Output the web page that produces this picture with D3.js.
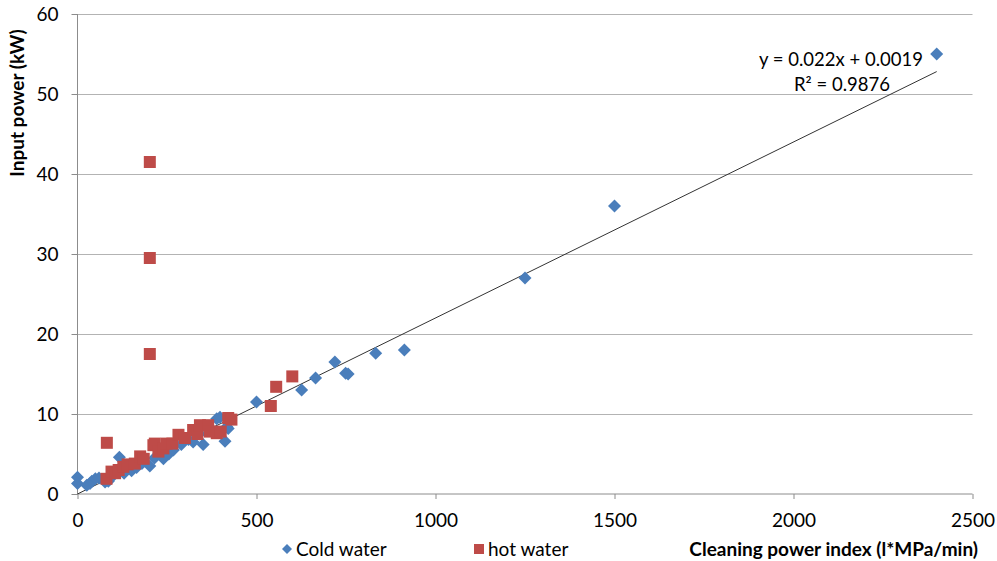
<!DOCTYPE html>
<html>
<head>
<meta charset="utf-8">
<script src="https://cdnjs.cloudflare.com/ajax/libs/d3/7.8.5/d3.min.js"></script>
<style>
  body { margin: 0; background: #fff; }
  text { font-family: Lato, "Open Sans", sans-serif; fill: #000; }
</style>
</head>
<body>
<svg id="chart"></svg>
<script>
// cold water measurements [cleaning power index, input power]
const coldX = [0, 0, 26, 35, 40, 50, 60, 77, 86, 100, 117, 130, 151, 165, 180, 202, 215, 240, 255, 268, 290, 310, 323, 340, 351, 370, 389, 398, 412, 417, 421, 500, 626, 665, 719, 749, 756, 833, 913, 1250, 1500, 2400];
const coldY = [2.1, 1.3, 1.1, 1.3, 1.6, 1.9, 2.0, 1.5, 1.6, 2.3, 4.6, 2.6, 2.9, 3.3, 3.8, 3.5, 4.5, 4.4, 5.0, 5.5, 6.2, 6.8, 6.5, 7.5, 6.2, 8.3, 9.4, 9.6, 6.6, 8.4, 8.2, 11.5, 13.0, 14.5, 16.5, 15.1, 15.0, 17.6, 18.0, 27, 36, 55];

// hot water measurements
const hotX = [82, 81, 95, 105, 115, 128, 140, 160, 175, 185, 202, 202, 202, 212, 216, 226, 240, 249, 265, 282, 300, 323, 335, 342, 365, 370, 389, 400, 421, 430, 540, 555, 600];
const hotY = [6.4, 1.9, 2.8, 2.6, 3.0, 3.4, 3.7, 3.8, 4.7, 4.4, 17.5, 29.5, 41.5, 6.1, 6.3, 5.3, 5.7, 6.3, 6.3, 7.4, 7.0, 8.0, 7.5, 8.6, 8.6, 7.8, 7.6, 7.8, 9.5, 9.3, 11.0, 13.4, 14.7];

// linear trendline fitted on cold water
const trendSlope = 0.022;
const trendIntercept = 0.0019;
const trendRange = [0, 2400];

const xTicks = [0, 500, 1000, 1500, 2000, 2500];
const yTicks = [0, 10, 20, 30, 40, 50, 60];

const W = 997, H = 561;
const cold = coldX.map((x, i) => ({x: x, y: coldY[i]}));
const hot = hotX.map((x, i) => ({x: x, y: hotY[i]}));

const svg = d3.select("#chart")
    .attr("width", W)
    .attr("height", H);

const xScale = d3.scaleLinear()
    .domain([0, 2500])
    .range([77.5, 972.5]);

const yScale = d3.scaleLinear()
    .domain([0, 60])
    .range([494, 14]);

// horizontal gridlines
svg.append("g")
    .selectAll("line")
    .data(yTicks.slice(1))
    .enter()
    .append("line")
    .attr("x1", xScale(0))
    .attr("x2", xScale(2500))
    .attr("y1", d => Math.round(yScale(d)) + 0.5)
    .attr("y2", d => Math.round(yScale(d)) + 0.5)
    .attr("stroke", "#b3b3b3")
    .attr("stroke-width", 1);

// axes
const xAxis = d3.axisBottom(xScale)
    .tickValues(xTicks)
    .tickFormat(d3.format("d"))
    .tickSize(5)
    .tickPadding(15);

const yAxis = d3.axisLeft(yScale)
    .tickValues(yTicks)
    .tickFormat(d3.format("d"))
    .tickSize(6)
    .tickPadding(13);

const gx = svg.append("g")
    .attr("transform", "translate(0," + yScale(0) + ")")
    .call(xAxis);

const gy = svg.append("g")
    .attr("transform", "translate(" + xScale(0) + ",0)")
    .call(yAxis);

[gx, gy].forEach(g => {
    g.select(".domain").attr("stroke", "#8c8c8c");
    g.selectAll(".tick line").attr("stroke", "#8c8c8c");
    g.selectAll(".tick text")
        .style("font-family", "Lato, sans-serif")
        .style("font-size", "19px")
        .attr("fill", "#000");
});
gy.select(".domain").attr("d", "M0," + yScale(60) + "V" + yScale(0));
gx.select(".domain").attr("d", "M" + xScale(0) + ",0H" + xScale(2500));

// trendline
const lineFun = d3.line()
    .x(d => xScale(d))
    .y(d => yScale(trendSlope * d + trendIntercept));

svg.append("path")
    .attr("d", lineFun(trendRange))
    .attr("stroke", "#333")
    .attr("stroke-width", 1)
    .attr("fill", "none");

// markers
const diamond = r => "M0," + (-r) + "L" + r + ",0L0," + r + "L" + (-r) + ",0Z";

svg.append("g")
    .selectAll("path")
    .data(cold)
    .enter()
    .append("path")
    .attr("d", diamond(6.5))
    .attr("transform", d => "translate(" + xScale(d.x) + "," + yScale(d.y) + ")")
    .attr("fill", "#4a7ebb");

svg.append("g")
    .selectAll("rect")
    .data(hot)
    .enter()
    .append("rect")
    .attr("x", d => xScale(d.x) - 6)
    .attr("y", d => yScale(d.y) - 6)
    .attr("width", 12)
    .attr("height", 12)
    .attr("fill", "#be4b48");

// trendline equation
svg.append("text")
    .attr("x", 841)
    .attr("y", 66)
    .attr("text-anchor", "middle")
    .style("font-size", "18.5px")
    .text("y = 0.022x + 0.0019");
svg.append("text")
    .attr("x", 842)
    .attr("y", 91)
    .attr("text-anchor", "middle")
    .style("font-size", "18.5px")
    .text("R² = 0.9876");

// axis titles
svg.append("text")
    .attr("transform", "translate(24,103) rotate(-90)")
    .attr("text-anchor", "middle")
    .style("font-size", "19px")
    .attr("font-weight", "bold")
    .text("Input power (kW)");

svg.append("text")
    .attr("x", 978)
    .attr("y", 556)
    .attr("text-anchor", "end")
    .style("font-size", "19px")
    .attr("font-weight", "bold")
    .text("Cleaning power index (l*MPa/min)");

// legend
svg.append("path")
    .attr("d", diamond(5))
    .attr("transform", "translate(287,549)")
    .attr("fill", "#4a7ebb");
svg.append("text")
    .attr("x", 296)
    .attr("y", 556)
    .style("font-size", "19px")
    .text("Cold water");
svg.append("rect")
    .attr("x", 474)
    .attr("y", 544)
    .attr("width", 10)
    .attr("height", 10)
    .attr("fill", "#be4b48");
svg.append("text")
    .attr("x", 488)
    .attr("y", 556)
    .style("font-size", "19px")
    .text("hot water");
</script>
</body>
</html>
